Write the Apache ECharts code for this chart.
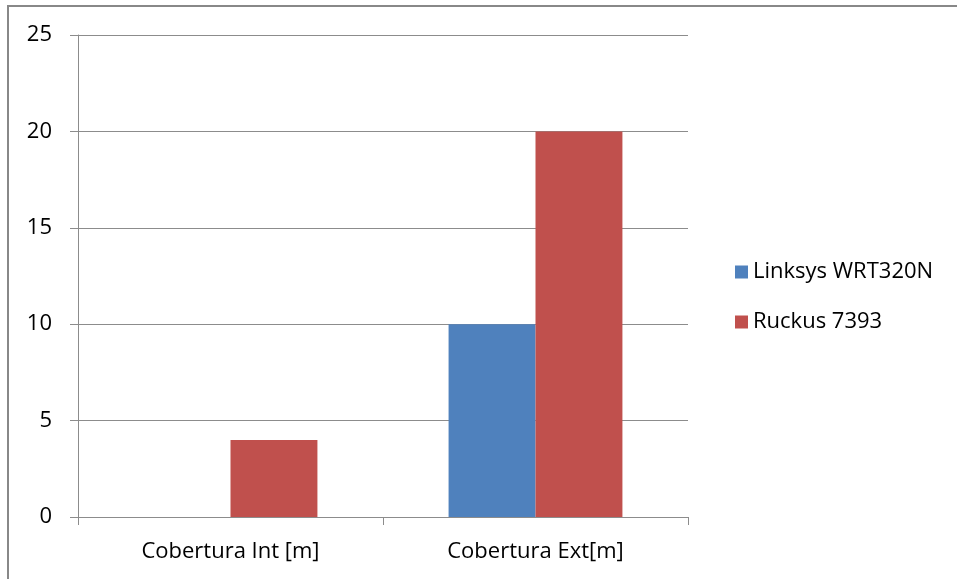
<!DOCTYPE html>
<html>
<head>
<meta charset="utf-8">
<script src="https://cdn.jsdelivr.net/npm/echarts@6/dist/echarts.min.js"></script>
<style>
  html, body { margin: 0; padding: 0; background: #fff; }
  #chart { width: 957px; height: 579px; }
</style>
</head>
<body>
<div id="chart"></div>
<script>
const categories = ['Cobertura Int [m]', 'Cobertura Ext[m]'];
const linksys = [0, 10];
const ruckus = [4, 20];
const seriesNames = ['Linksys WRT320N', 'Ruckus 7393'];

const fontFamily = 'Open Sans, Noto Sans, sans-serif';
const axisGray = '#8c8c8c';

const chart = echarts.init(document.getElementById('chart'));

const option = {
  animation: false,
  backgroundColor: '#fff',
  graphic: [
    {
      type: 'rect',
      shape: { x: 8, y: 6, width: 1200, height: 1000 },
      style: { fill: 'none', stroke: '#888', lineWidth: 2 },
      z: -1
    }
  ],
  grid: { left: 78, right: 269, top: 35, bottom: 62 },
  legend: {
    orient: 'vertical',
    left: 730,
    top: 256,
    itemWidth: 13,
    itemHeight: 13,
    itemGap: 28,
    icon: 'rect',
    data: seriesNames,
    textStyle: { fontFamily: fontFamily, fontSize: 22, color: '#000' }
  },
  xAxis: {
    type: 'category',
    data: categories,
    axisLine: { lineStyle: { color: axisGray, width: 1 } },
    axisTick: { show: true, length: 8, lineStyle: { color: axisGray } },
    axisLabel: { fontFamily: fontFamily, fontSize: 22, color: '#000', margin: 24 }
  },
  yAxis: {
    type: 'value',
    min: 0,
    max: 25,
    interval: 5,
    axisLine: { show: true, lineStyle: { color: axisGray, width: 1 } },
    axisTick: { show: true, length: 8, lineStyle: { color: axisGray } },
    axisLabel: { fontFamily: fontFamily, fontSize: 22, color: '#000', margin: 26 },
    splitLine: { lineStyle: { color: axisGray, width: 1 } }
  },
  series: [
    {
      name: seriesNames[0],
      type: 'bar',
      data: linksys,
      barGap: '0%',
      barCategoryGap: '43%',
      itemStyle: { color: '#4f81bd' }
    },
    {
      name: seriesNames[1],
      type: 'bar',
      data: ruckus,
      barGap: '0%',
      barCategoryGap: '43%',
      itemStyle: { color: '#c0504d' }
    }
  ]
};

chart.setOption(option);
</script>
</body>
</html>
